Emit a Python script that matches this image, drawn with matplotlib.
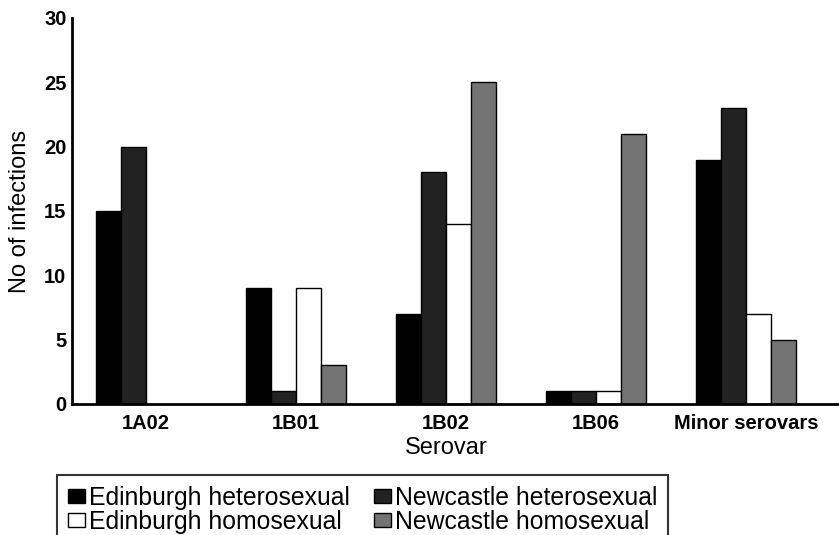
import numpy as np
import matplotlib
matplotlib.use('Agg')
import matplotlib.pyplot as plt
from matplotlib.patches import Patch

#=====Data=====
serovars = ['1A02', '1B01', '1B02', '1B06', 'Minor serovars']
edin_hetero = [15, 9, 7, 1, 19]
newc_hetero = [20, 1, 18, 1, 23]
edin_homo = [0, 9, 14, 1, 7]
newc_homo = [0, 3, 25, 21, 5]

series = [('Edinburgh heterosexual', edin_hetero, '#000000'),
          ('Newcastle heterosexual', newc_hetero, '#222222'),
          ('Edinburgh homosexual', edin_homo, '#ffffff'),
          ('Newcastle homosexual', newc_homo, '#747474')]

plt.rcParams['font.family'] = ['Liberation Sans', 'DejaVu Sans']

#=====Figure and axes=====
fig = plt.figure(figsize=(8.39, 5.35), dpi=100)
ax = fig.add_axes([0.0858, 0.2449, 0.9132, 0.7215])

x = np.arange(len(serovars))
w = 1.0 / 6
proxies = {}
for i, (name, vals, col) in enumerate(series):
    vals = np.array(vals, dtype=float)
    b = ax.bar(x + (i - 1.5) * w, vals, width=w, color=col, edgecolor='black',
               linewidth=1.0)
    # zero counts draw nothing
    for rect, v in zip(b, vals):
        if v == 0:
            rect.set_visible(False)
    proxies[name] = Patch(facecolor=col, edgecolor='black', linewidth=1.0, label=name)

ax.set_xlim(-0.493, 4.613)
ax.set_ylim(0, 30)
ax.set_yticks(range(0, 31, 5))
ax.set_xticks(x)
ax.set_xticklabels(serovars)
ax.tick_params(axis='both', length=0, labelsize=14.5)
ax.tick_params(axis='x', pad=7)
ax.tick_params(axis='y', pad=4)
for lab in ax.get_xticklabels() + ax.get_yticklabels():
    lab.set_fontweight('bold')

for s in ['top', 'right']:
    ax.spines[s].set_visible(False)
for s in ['left', 'bottom']:
    ax.spines[s].set_linewidth(2)

ax.set_ylabel('No of infections', fontsize=17)
ax.yaxis.set_label_coords(-0.054, 0.5)
ax.set_xlabel('Serovar', fontsize=17)
ax.xaxis.set_label_coords(0.488, -0.085)

#=====Legend (row-wise order)=====
order = ['Edinburgh heterosexual', 'Edinburgh homosexual',
         'Newcastle heterosexual', 'Newcastle homosexual']
leg = fig.legend(handles=[proxies[k] for k in order], loc='upper left', ncol=2,
                 bbox_to_anchor=(0.068, 0.112), fontsize=17.8,
                 frameon=True, fancybox=False, edgecolor='black',
                 handlelength=0.68, handleheight=0.5, handletextpad=0.15,
                 columnspacing=1.0, labelspacing=0.0, borderpad=0.45,
                 borderaxespad=0)
leg.get_frame().set_linewidth(1.5)

plt.savefig('out.png', dpi=100)
